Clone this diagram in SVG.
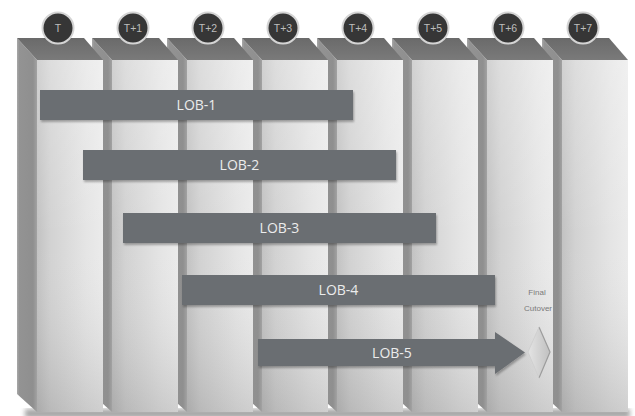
<svg xmlns="http://www.w3.org/2000/svg" xmlns:xlink="http://www.w3.org/1999/xlink" width="635" height="416" viewBox="0 0 635 416">
  <style>
    .side { fill: url(#sideGrad); }
    .top { fill: url(#topGrad); }
    .front { fill: url(#frontGrad); }
    .frontShade { fill: url(#frontShade); }
    .badge { fill: #363636; stroke: #d4d4d4; stroke-width: 2; }
    .badgeText { font-family: "Liberation Sans", Arial, sans-serif; font-size: 10.5px; fill: #bdbdbd; text-anchor: middle; }
    .bar { fill: #6b6e72; filter: url(#barShadow); }
    .barText { font-family: "Open Sans", "Liberation Sans", sans-serif; font-size: 14px; fill: #ececec; text-anchor: middle; }
    .small { font-family: "Liberation Sans", Arial, sans-serif; font-size: 8px; fill: #7a7a7a; text-anchor: middle; }
  </style>
  <defs>
    <linearGradient id="frontGrad" x1="0" y1="0" x2="1" y2="0">
      <stop offset="0" stop-color="#c2c2c2"/>
      <stop offset="0.2" stop-color="#d2d2d2"/>
      <stop offset="0.75" stop-color="#e5e5e5"/>
      <stop offset="1" stop-color="#ebebeb"/>
    </linearGradient>
    <linearGradient id="frontShade" x1="0" y1="0" x2="0" y2="1">
      <stop offset="0" stop-color="#ffffff" stop-opacity="0.25"/>
      <stop offset="0.5" stop-color="#ffffff" stop-opacity="0"/>
      <stop offset="1" stop-color="#000000" stop-opacity="0.12"/>
    </linearGradient>
    <linearGradient id="sideGrad" x1="0" y1="0" x2="1" y2="0">
      <stop offset="0" stop-color="#a8a8a8"/>
      <stop offset="0.12" stop-color="#939393"/>
      <stop offset="0.8" stop-color="#8f8f8f"/>
      <stop offset="1" stop-color="#a2a2a2"/>
    </linearGradient>
    <linearGradient id="topGrad" x1="0" y1="0" x2="0" y2="1">
      <stop offset="0" stop-color="#6a6a6a"/>
      <stop offset="1" stop-color="#7a7a7a"/>
    </linearGradient>
    <linearGradient id="diaGrad" x1="0" y1="0" x2="1" y2="0">
      <stop offset="0" stop-color="#e4e4e4"/>
      <stop offset="1" stop-color="#c0c0c0"/>
    </linearGradient>
    <filter id="barShadow" x="-5%" y="-20%" width="110%" height="150%">
      <feGaussianBlur in="SourceAlpha" stdDeviation="1.2"/>
      <feOffset dx="0.5" dy="1.5" result="b"/>
      <feComponentTransfer><feFuncA type="linear" slope="0.3"/></feComponentTransfer>
      <feMerge><feMergeNode/><feMergeNode in="SourceGraphic"/></feMerge>
    </filter>
    <filter id="blur3"><feGaussianBlur stdDeviation="2.5"/></filter>
    <g id="column">
      <polygon class="side" points="17,38 37,60 37,412 17,394"/>
      <polygon class="top" points="17,38 84,38 103,60 37,60"/>
      <rect class="front" x="37" y="60" width="66" height="352"/>
      <rect class="frontShade" x="37" y="60" width="66" height="352"/>
    </g>
  </defs>

  <rect width="635" height="416" fill="#ffffff"/>
  <rect x="25" y="409" width="605" height="9" fill="#3a3a3a" opacity="0.45" filter="url(#blur3)"/>

  <g id="columns">
    <g id="col-T7" transform="translate(525,0)"><use xlink:href="#column"/><circle class="badge" cx="58" cy="28" r="15.5"/><text class="badgeText" x="58" y="32">T+7</text></g>
    <g id="col-T6" transform="translate(450,0)"><use xlink:href="#column"/><circle class="badge" cx="58" cy="28" r="15.5"/><text class="badgeText" x="58" y="32">T+6</text></g>
    <g id="col-T5" transform="translate(375,0)"><use xlink:href="#column"/><circle class="badge" cx="58" cy="28" r="15.5"/><text class="badgeText" x="58" y="32">T+5</text></g>
    <g id="col-T4" transform="translate(300,0)"><use xlink:href="#column"/><circle class="badge" cx="58" cy="28" r="15.5"/><text class="badgeText" x="58" y="32">T+4</text></g>
    <g id="col-T3" transform="translate(225,0)"><use xlink:href="#column"/><circle class="badge" cx="58" cy="28" r="15.5"/><text class="badgeText" x="58" y="32">T+3</text></g>
    <g id="col-T2" transform="translate(150,0)"><use xlink:href="#column"/><circle class="badge" cx="58" cy="28" r="15.5"/><text class="badgeText" x="58" y="32">T+2</text></g>
    <g id="col-T1" transform="translate(75,0)"><use xlink:href="#column"/><circle class="badge" cx="58" cy="28" r="15.5"/><text class="badgeText" x="58" y="32">T+1</text></g>
    <g id="col-T"><use xlink:href="#column"/><circle class="badge" cx="58" cy="28" r="15.5"/><text class="badgeText" x="58" y="32">T</text></g>
  </g>

  <g id="lob-1"><rect class="bar" x="40" y="90" width="313" height="30"/><text class="barText" x="196.5" y="110">LOB-1</text></g>
  <g id="lob-2"><rect class="bar" x="83" y="150" width="313" height="30"/><text class="barText" x="239.5" y="170">LOB-2</text></g>
  <g id="lob-3"><rect class="bar" x="123" y="213" width="313" height="30"/><text class="barText" x="279.5" y="233">LOB-3</text></g>
  <g id="lob-4"><rect class="bar" x="182" y="275" width="313" height="30"/><text class="barText" x="338.5" y="295">LOB-4</text></g>
  <g id="lob-5"><polygon class="bar" points="258,339 495,339 495,332 525,352.5 495,374 495,366 258,366"/><text class="barText" x="392" y="357.5">LOB-5</text></g>

  <g id="final-cutover">
    <polygon points="539,327 550,352 539,378 528,352" fill="url(#diaGrad)"/>
    <polyline points="539,327 550,352 539,378" fill="none" stroke="#9c9c9c" stroke-width="1.2"/>
    <polyline points="539,327 528,352 539,378" fill="none" stroke="#cdcdcd" stroke-width="0.8"/>
    <text class="small" x="537" y="295">Final</text>
    <text class="small" x="538" y="311">Cutover</text>
  </g>
</svg>
